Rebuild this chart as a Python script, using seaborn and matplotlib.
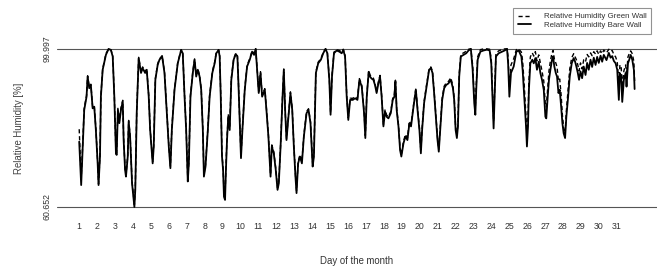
"""
Relative humidity, green wall vs bare wall, over one month.
Values read off the reference picture (roughly 3-hourly).
"""
import pandas as pd
import matplotlib
matplotlib.use("Agg")
import matplotlib.pyplot as plt
import seaborn as sns

sns.set_theme(style="white")
plt.rcParams["font.family"] = ["Liberation Sans", "DejaVu Sans"]

RH_MIN = 60.652
RH_MAX = 99.997
DAY_TICKS = list(range(1, 32))
LABEL_GREEN = "Relative Humidity Green Wall"
LABEL_BARE = "Relative Humidity Bare Wall"

day = [
    1.00, 1.11, 1.28, 1.41, 1.47, 1.56, 1.65, 1.75, 1.84, 1.93,
    2.03, 2.08, 2.16, 2.21, 2.31, 2.49, 2.64, 2.77, 2.87, 2.96,
    3.05, 3.09, 3.16, 3.24, 3.33, 3.43, 3.48, 3.56, 3.61, 3.71, 3.76, 3.84, 3.95,
    4.08, 4.13, 4.21, 4.32, 4.45, 4.54, 4.68, 4.77, 4.88, 4.96,
    5.10, 5.16, 5.25, 5.38, 5.48, 5.63, 5.76, 5.89,
    6.00, 6.09, 6.17, 6.32, 6.50, 6.69, 6.78, 6.88, 6.97,
    7.06, 7.12, 7.21, 7.34, 7.44, 7.53, 7.62, 7.72, 7.81, 7.90, 7.96,
    8.05, 8.18, 8.28, 8.43, 8.56, 8.65, 8.78, 8.84, 8.90, 8.97,
    9.03, 9.08, 9.14, 9.19, 9.25, 9.32, 9.40, 9.49, 9.62, 9.74, 9.83, 9.88, 9.96,
    10.03, 10.11, 10.24, 10.37, 10.52, 10.65, 10.76, 10.85, 10.93,
    11.02, 11.12, 11.21, 11.36, 11.45, 11.56, 11.68, 11.75, 11.86, 11.97,
    12.07, 12.14, 12.24, 12.35, 12.42, 12.50, 12.57, 12.68, 12.79, 12.89, 12.98,
    13.07, 13.13, 13.22, 13.32, 13.43, 13.54, 13.69, 13.80, 13.91,
    14.03, 14.10, 14.21, 14.34, 14.49, 14.62, 14.75, 14.85, 14.96,
    15.03, 15.11, 15.22, 15.37, 15.52, 15.65, 15.74, 15.84, 15.93,
    16.02, 16.12, 16.27, 16.40, 16.53, 16.64, 16.77, 16.90, 16.97,
    17.05, 17.16, 17.23, 17.32, 17.42, 17.51, 17.60, 17.70, 17.79, 17.88, 17.98,
    18.07, 18.16, 18.26, 18.39, 18.50, 18.59, 18.65, 18.72, 18.82, 18.91, 18.98,
    19.10, 19.21, 19.32, 19.43, 19.52, 19.66, 19.79, 19.90, 19.99,
    20.07, 20.14, 20.25, 20.40, 20.53, 20.63, 20.72, 20.81, 20.92,
    21.00, 21.07, 21.15, 21.26, 21.37, 21.48, 21.61, 21.74, 21.86, 21.93,
    22.01, 22.08, 22.14, 22.21, 22.30, 22.45, 22.60, 22.73, 22.86, 22.96,
    23.05, 23.11, 23.16, 23.24, 23.39, 23.57, 23.76, 23.91,
    24.00, 24.10, 24.13, 24.19, 24.26, 24.41, 24.60, 24.75, 24.88, 24.94,
    25.01, 25.10, 25.25, 25.40, 25.53, 25.68, 25.75, 25.84, 25.94, 25.99,
    26.05, 26.10, 26.18, 26.29, 26.37, 26.46, 26.55, 26.65, 26.74, 26.83, 26.93,
    27.02, 27.07, 27.15, 27.22, 27.30, 27.39, 27.45, 27.52, 27.60, 27.67, 27.75, 27.82, 27.90, 27.97,
    28.04, 28.12, 28.19, 28.29, 28.38, 28.49, 28.60, 28.68, 28.75, 28.83, 28.90, 28.98,
    29.07, 29.16, 29.26, 29.35, 29.44, 29.54, 29.63, 29.72, 29.82, 29.91,
    30.00, 30.10, 30.19, 30.28, 30.43, 30.56, 30.66, 30.75, 30.84, 30.94,
    31.03, 31.12, 31.18, 31.25, 31.31, 31.40, 31.50, 31.55, 31.63, 31.70, 31.78, 31.87, 31.96, 32.00,
]

rh_bare = [
    76.9, 66.1, 84.8, 88.1, 93.1, 90.2, 91.0, 85.2, 85.6, 79.8,
    71.5, 66.1, 73.2, 88.1, 94.8, 98.5, 99.997, 99.7, 98.1, 88.1,
    74.0, 73.6, 84.8, 81.5, 84.8, 86.9, 77.3, 69.9, 68.2, 73.2, 81.9, 78.2, 66.5,
    60.652, 64.9, 84.0, 97.7, 94.0, 95.2, 94.0, 94.8, 88.1, 79.8,
    71.5, 75.7, 92.3, 96.0, 97.3, 98.1, 94.0, 84.0,
    75.7, 70.3, 79.8, 89.8, 96.4, 99.7, 98.9, 88.1, 79.8,
    67.0, 71.5, 88.1, 94.0, 97.3, 93.1, 94.8, 93.1, 89.8, 79.8, 68.2,
    70.7, 79.8, 88.1, 94.0, 96.4, 98.9, 99.7, 98.1, 88.1, 73.2,
    69.9, 63.2, 62.4, 69.9, 77.3, 83.1, 79.8, 92.3, 97.3, 98.7, 98.1, 92.3, 81.5,
    72.8, 79.8, 89.8, 95.6, 97.3, 99.3, 98.5, 99.997, 94.8,
    89.0, 94.0, 88.1, 89.8, 84.8, 78.2, 68.2, 75.7, 74.0, 69.9,
    64.9, 66.5, 75.7, 88.1, 94.8, 84.0, 77.3, 83.1, 89.0, 84.8, 75.7,
    68.2, 64.1, 71.5, 73.2, 71.5, 78.2, 84.0, 84.8, 81.5,
    70.7, 73.2, 94.0, 96.4, 97.3, 98.9, 99.997, 98.9, 92.3,
    83.6, 93.1, 98.9, 99.6, 99.3, 98.9, 99.7, 98.1, 88.1,
    82.3, 87.3, 87.3, 87.7, 87.3, 92.3, 90.6, 84.0, 77.8,
    88.1, 94.3, 93.1, 92.6, 92.3, 91.0, 89.0, 91.4, 93.1, 88.1, 80.7,
    84.4, 83.1, 82.7, 84.0, 87.3, 88.1, 91.9, 84.8, 80.7, 74.8, 73.2,
    76.5, 78.2, 77.3, 81.5, 80.7, 85.6, 89.8, 84.0, 79.8,
    74.0, 79.8, 86.5, 91.0, 94.8, 95.2, 94.0, 89.0, 82.3,
    77.3, 74.4, 79.8, 87.3, 90.2, 91.0, 91.4, 92.3, 90.2, 87.3,
    79.8, 77.8, 80.7, 93.1, 98.1, 98.5, 98.9, 99.6, 99.997, 94.8,
    86.5, 83.6, 89.8, 97.3, 99.3, 99.6, 99.8, 99.6,
    96.4, 84.0, 80.2, 88.1, 98.1, 98.9, 99.3, 99.6, 99.997, 96.4,
    88.1, 94.0, 95.6, 99.3, 99.6, 98.1, 94.8, 88.1, 80.7, 75.7,
    80.7, 89.8, 96.4, 97.3, 96.4, 97.7, 94.8, 96.8, 94.0, 92.3, 89.8,
    83.1, 82.7, 88.1, 92.3, 94.8, 97.3, 98.1, 95.6, 94.0, 93.1, 89.0, 89.8, 85.6, 81.5,
    79.0, 77.8, 83.1, 88.1, 93.1, 96.4, 97.7, 96.8, 95.6, 94.0, 92.3, 94.4,
    92.7, 95.6, 93.5, 96.5, 94.8, 97.3, 95.5, 97.8, 96.0, 98.0,
    96.5, 98.3, 96.8, 98.5, 97.2, 99.0, 97.8, 98.2, 97.0, 96.4,
    94.8, 87.3, 93.9, 93.1, 86.8, 92.3, 94.0, 90.6, 96.4, 97.3, 98.5, 97.3, 94.8, 90.0,
]

rh_green = [
    80.0, 67.5, 85.3, 88.4, 93.3, 90.5, 91.2, 85.5, 85.8, 80.2,
    71.8, 66.4, 73.6, 88.4, 95.0, 98.8, 99.997, 99.8, 98.3, 88.5,
    74.5, 74.0, 85.2, 82.0, 85.3, 87.2, 77.8, 70.3, 68.6, 73.5, 82.2, 78.6, 67.0,
    61.2, 65.3, 84.5, 97.9, 94.3, 95.5, 94.3, 95.0, 88.5, 80.2,
    71.9, 76.0, 92.6, 96.3, 97.5, 98.3, 94.3, 84.5,
    76.1, 70.8, 80.2, 90.1, 96.6, 99.8, 99.1, 88.5, 80.2,
    67.5, 72.0, 88.5, 94.3, 97.5, 93.5, 95.0, 93.4, 90.1, 80.3, 68.8,
    71.1, 80.2, 88.5, 94.3, 96.7, 99.1, 99.8, 98.4, 88.6, 73.8,
    70.5, 64.2, 63.4, 70.6, 78.0, 83.6, 80.4, 92.7, 97.5, 98.9, 98.3, 92.7, 82.0,
    73.3, 80.3, 90.1, 95.9, 97.6, 99.5, 98.8, 99.997, 95.2,
    89.4, 94.3, 88.5, 90.1, 85.2, 78.6, 68.7, 76.1, 74.4, 70.3,
    65.4, 67.0, 76.1, 88.5, 95.0, 84.4, 77.7, 83.5, 89.3, 85.2, 76.1,
    68.7, 64.7, 72.0, 73.6, 72.0, 78.6, 84.4, 85.1, 81.9,
    71.3, 73.7, 94.3, 96.7, 97.6, 99.1, 99.997, 99.1, 92.8,
    84.1, 93.5, 99.2, 99.8, 99.6, 99.2, 99.9, 98.5, 88.6,
    82.8, 87.7, 87.7, 88.1, 87.7, 92.6, 91.0, 84.5, 78.4,
    88.5, 94.6, 93.5, 93.0, 92.7, 91.4, 89.4, 91.8, 93.4, 88.5, 81.2,
    84.8, 83.5, 83.1, 84.4, 87.7, 88.5, 92.2, 85.2, 81.1, 75.3, 73.7,
    77.0, 78.7, 77.8, 82.0, 81.2, 86.0, 90.2, 84.5, 80.3,
    74.5, 80.3, 86.9, 91.4, 95.1, 95.5, 94.4, 89.5, 82.8,
    77.8, 75.0, 80.4, 87.8, 90.7, 91.5, 91.9, 92.8, 90.8, 87.9,
    80.5, 78.5, 81.5, 93.8, 98.6, 99.0, 99.4, 99.9, 99.997, 96.0,
    88.0, 85.5, 91.0, 98.0, 99.8, 99.997, 99.997, 99.9,
    97.5, 85.5, 82.0, 89.5, 98.8, 99.5, 99.8, 99.997, 99.997, 98.0,
    90.5, 96.0, 97.5, 99.8, 99.997, 99.2, 97.0, 91.0, 83.0, 78.0,
    83.0, 92.0, 98.0, 99.0, 98.2, 99.3, 97.0, 98.5, 96.5, 94.5, 92.0,
    86.0, 85.5, 90.5, 94.5, 97.0, 99.0, 99.6, 97.5, 96.5, 95.5, 92.0, 92.5, 88.5, 83.5,
    80.5, 79.0, 84.5, 90.0, 95.0, 97.8, 98.8, 98.0, 97.3, 96.0, 94.5, 96.5,
    95.0, 97.3, 96.8, 98.6, 98.0, 99.0, 98.3, 99.3, 98.7, 99.5,
    98.6, 99.5, 98.8, 99.7, 99.0, 99.9, 99.4, 99.6, 98.6, 98.0,
    96.8, 91.5, 96.0, 95.5, 90.5, 94.5, 96.0, 93.5, 98.0, 98.8, 99.5, 98.8, 96.8, 92.0,
]

df = pd.DataFrame({"day": day, "green": rh_green, "bare": rh_bare})

fig = plt.figure(figsize=(6.65, 2.71), dpi=100)
ax = fig.add_axes([0.0857, 0.213, 0.902, 0.630])

sns.lineplot(data=df, x="day", y="green", ax=ax, sort=False, color="black",
             lw=1.0, linestyle=(0, (3, 2)), label=LABEL_GREEN)
sns.lineplot(data=df, x="day", y="bare", ax=ax, sort=False, color="black",
             lw=1.3, label=LABEL_BARE)

# R-style plot: min / max reference lines across the whole plot region
for v in (RH_MIN, RH_MAX):
    ax.axhline(v, color="#555555", lw=0.8, zorder=0)

span = RH_MAX - RH_MIN
ax.set_xlim(1 - 0.04 * 31, 32 + 0.04 * 31)
ax.set_ylim(RH_MIN - 0.04 * span, RH_MAX + 0.04 * span)

ax.set_xticks(DAY_TICKS)
ax.set_xticklabels([str(d) for d in DAY_TICKS])
ax.set_yticks([RH_MIN, RH_MAX])
ax.set_yticklabels([f"{RH_MIN:.3f}", f"{RH_MAX:.3f}"], rotation=90, va="center")
ax.tick_params(length=0, labelsize=6.3, colors="#333333")
ax.tick_params(axis="x", pad=6.5)
ax.tick_params(axis="y", pad=4)

ax.set_xlabel("Day of the month", fontsize=6.9, color="#333333", labelpad=18)
ax.set_ylabel("Relative Humidity [%]", fontsize=6.9, color="#444444", labelpad=13)
ax.grid(False)
sns.despine(ax=ax, left=True, bottom=True)

leg = ax.legend(loc="upper right", bbox_to_anchor=(651 / 665, 1 - 8 / 271),
                bbox_transform=fig.transFigure, borderaxespad=0, fontsize=5.7,
                frameon=True, fancybox=False, handlelength=1.6,
                handletextpad=1.6, labelspacing=0.15, borderpad=0.6)
leg.get_frame().set_edgecolor("#777777")
leg.get_frame().set_linewidth(0.8)
for t in leg.get_texts():
    t.set_color("#333333")

fig.savefig("out.png", dpi=100)
